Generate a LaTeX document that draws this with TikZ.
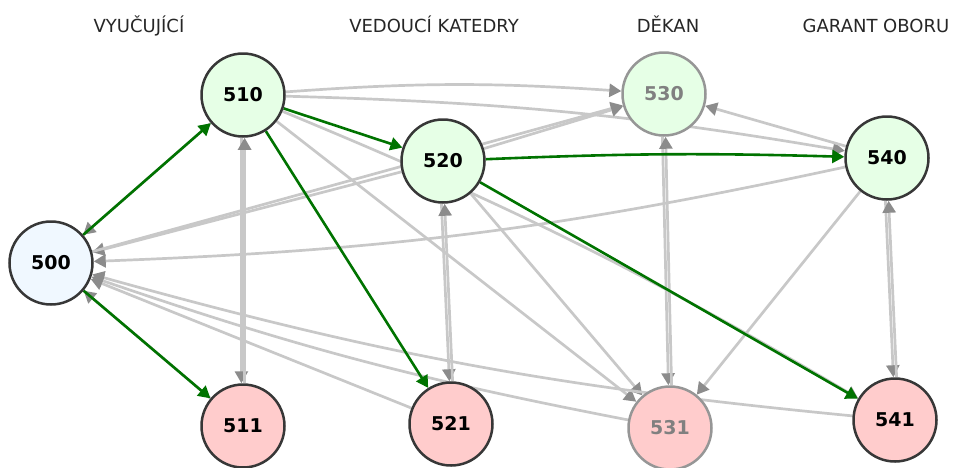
\documentclass[tikz,border=0pt]{standalone}
\usepackage{fontspec}
\setmainfont{DejaVu Sans}
\usetikzlibrary{arrows.meta,backgrounds}

\definecolor{okfill}{RGB}{230,255,230}
\definecolor{kofill}{RGB}{255,204,204}
\definecolor{initfill}{RGB}{240,248,255}
\definecolor{rim}{RGB}{55,55,55}
\definecolor{mutedrim}{RGB}{150,150,150}
\definecolor{mutedtext}{RGB}{128,128,128}
\definecolor{linkgray}{RGB}{200,200,200}
\definecolor{tipgray}{RGB}{140,140,140}
\definecolor{flowgreen}{RGB}{0,115,0}

\tikzset{
  state/.style={circle, draw=rim, line width=2.5pt, minimum size=83pt, inner sep=0pt,
    font=\bfseries\fontsize{19}{19}\selectfont},
  ok/.style={state, fill=okfill},
  ko/.style={state, fill=kofill},
  init/.style={state, fill=initfill},
  muted/.style={draw=mutedrim, text=mutedtext},
  role/.style={anchor=base, text=black!85, font=\fontsize{18}{18}\selectfont},
  link/.style={draw=linkgray, line width=2.7pt, -{Triangle[length=12pt,width=13pt,color=tipgray]}},
  flow/.style={draw=flowgreen, line width=2.6pt, -{Triangle[length=12pt,width=13pt]}},
}

\begin{document}
\begin{tikzpicture}[x=1pt, y=-1pt]
	\useasboundingbox (0,0) rectangle (953,467);

	\node[role] (hvyuc) at (139,32) {VYUČUJÍCÍ};
	\node[role] (hved) at (434,32) {VEDOUCÍ KATEDRY};
	\node[role] (hdek) at (668,32) {DĚKAN};
	\node[role] (hgar) at (876,32) {GARANT OBORU};

	\node[init] (s500) at (51,263) {500};
	\node[ok] (s510) at (243,95) {510};
	\node[ko] (s511) at (243,426) {511};
	\node[ok] (s520) at (443,161) {520};
	\node[ko] (s521) at (451,424) {521};
	\node[ok, muted] (s530) at (664,94) {530};
	\node[ko, muted] (s531) at (670,428) {531};
	\node[ok] (s540) at (887,158) {540};
	\node[ko] (s541) at (895,420) {541};

	\begin{scope}[on background layer]
	% grey links
	\draw[link] (s510) -- (s500);
	\draw[link] (s511) -- (s500);
	\draw[link] ([xshift=-1.6pt]s510.south) -- ([xshift=-1.6pt]s511.north);
	\draw[link] ([xshift=1.6pt]s511.north) -- ([xshift=1.6pt]s510.south);
	\draw[link] ([xshift=-1.6pt]s520.south) -- ([xshift=-1.6pt]s521.north);
	\draw[link] ([xshift=1.6pt]s521.north) -- ([xshift=1.6pt]s520.south);
	\draw[link] ([xshift=-1.6pt]s530.south) -- ([xshift=-1.6pt]s531.north);
	\draw[link] ([xshift=1.6pt]s531.north) -- ([xshift=1.6pt]s530.south);
	\draw[link] ([xshift=-1.6pt]s540.south) -- ([xshift=-1.6pt]s541.north);
	\draw[link] ([xshift=1.6pt]s541.north) -- ([xshift=1.6pt]s540.south);
	\draw[link] (s510) to[bend left=4] (s530);
	\draw[link] (s510) to[bend left=4] (s540);
	\draw[link] (s510) -- (s531);
	\draw[link] (s510) to[bend left=4] (s541);
	\draw[link] (s520) -- (s500);
	\draw[link] (s500) -- (s530);
	\draw[link] (s520) -- (s530);
	\draw[link] (s520) -- (s531);
	\draw[link] (s540) -- (s530);
	\draw[link] (s540) to[bend left=5] (s500);
	\draw[link] (s540) -- (s531);
	\draw[link] (s541) to[bend left=5] (s500);
	\draw[link] (s531) to[bend left=4] (s500);
	\draw[link] (s521) -- (s500);
	% green path
	\draw[flow] (s500) -- (s510);
	\draw[flow] (s500) -- (s511);
	\draw[flow] (s510) -- (s520);
	\draw[flow] (s510) -- (s521);
	\draw[flow] (s520) to[bend left=2] (s540);
	\draw[flow] (s520) -- (s541);
	\end{scope}
\end{tikzpicture}
\end{document}
